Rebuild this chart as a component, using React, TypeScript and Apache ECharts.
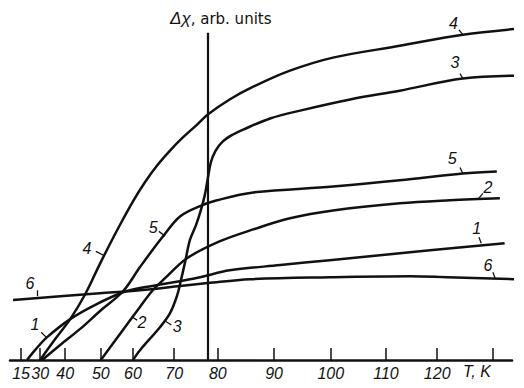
import React, { useEffect, useRef } from "react";
import * as echarts from "echarts";

// Temperature axis (non-linear, hand-drawn scale): tick temperatures and their positions along the axis (0..100)
const TICK_T = [15, 30, 40, 50, 60, 70, 80, 90, 100, 110, 120, 130];
const TICK_LABELS = ["15", "30", "40", "50", "60", "70", "80", "90", "100", "110", "120", ""];
const TICK_POS = [2.2, 6.0, 11.0, 18.1, 24.5, 32.7, 41.4, 52.6, 63.9, 74.9, 85.1, 96.2];

// Curves: temperature T (K) and Δχ (arb. units)
const curve1T = [19.7, 26.8, 32.8, 41.4, 48.3, 56.9, 61.7, 67.3, 75.9, 82.1, 91.1, 99.8, 118.6, 132.1];
const curve1Y = [0, 3.4, 7.0, 12.5, 16.8, 20.7, 22.0, 23.2, 25.3, 27.4, 29.0, 30.5, 33.5, 35.7];

const curve2T = [50, 55.9, 61.7, 64.6, 67.8, 72.95, 80.4, 86.3, 92.8, 100.4, 112.7, 122.3, 131.25];
const curve2Y = [0, 7.9, 16.2, 21.0, 25.0, 31.1, 36.3, 39.9, 43.3, 45.7, 47.9, 48.8, 49.4];

const curve3T = [60, 61.7, 66.6, 69.0, 70.7, 71.4, 72.5, 73.6, 75.0, 76.1, 77.0, 77.7, 78.4, 79.5, 80.9, 82.7, 84.5, 89.3, 94.6, 103.5, 112.7, 124.6, 134.8];
const curve3Y = [0, 3.0, 10.1, 14.3, 19.8, 23.5, 29.9, 36.6, 41.2, 45.7, 50.3, 55.5, 60.4, 64.0, 66.8, 68.9, 70.4, 73.8, 76.2, 79.6, 82.3, 86.0, 86.9];

const curve4T = [30, 36.0, 41.4, 45.6, 49.7, 53.75, 56.9, 60, 62.9, 65.9, 69.0, 72.0, 75.0, 77.7, 82.1, 86.3, 92.8, 100.4, 112.7, 124.6, 134.3];
const curve4Y = [0, 6.4, 12.5, 20.1, 29.3, 37.2, 43.0, 48.5, 54.3, 59.5, 64.0, 68.0, 71.6, 75.0, 79.6, 83.5, 88.4, 92.4, 96.0, 99.4, 101.2];

const curve5T = [30.8, 38.0, 44.2, 49.7, 56.9, 61.7, 67.3, 71.4, 75.9, 79.8, 86.3, 100.4, 112.7, 124.6, 130.7];
const curve5Y = [0, 4.6, 9.5, 14.9, 21.0, 28.4, 37.8, 43.9, 47.0, 48.8, 51.2, 53.0, 54.9, 57.0, 57.6];

const curve6T = [8.7, 38.0, 49.7, 61.7, 71.4, 77.7, 85.7, 99.8, 114.7, 121.8, 133.9];
const curve6Y = [18.3, 19.5, 20.4, 21.3, 22.6, 23.5, 24.7, 25.3, 25.6, 25.3, 24.7];

// Reference line (liquid-nitrogen temperature) and curve labels
const T_REF = 77.7;
const REF_TOP = 100;
const labelNames = ["1", "2", "3", "4", "5", "6"];
// label anchors [T, Δχ] and leader ticks [[T, Δχ], [T, Δχ]]
const labelRight = [[127.1, 40.2], [129.1, 52.7], [123.2, 90.9], [122.9, 102.7], [122.7, 61.6], [129.1, 29.0]];
const leaderRight = [
  [[127.5, 37.5], [127.9, 35.7]],
  [[128.2, 50.9], [127.3, 49.1]],
  [[124.1, 87.5], [124.6, 86.0]],
  [[123.9, 100.9], [124.6, 99.4]],
  [[124.1, 58.8], [124.6, 57.0]],
  [[130.0, 26.8], [130.4, 25.0]],
];
const labelLeft = [[26.0, 10.7], [62.2, 11.6], [70.7, 10.1], [46.1, 34.1], [64.9, 40.5], [22.1, 23.5]];
const leaderLeft = [
  [[30.4, 8.5], [32.4, 7.0]],
  [[61.0, 12.2], [59.6, 13.2]],
  [[69.3, 10.7], [67.8, 11.9]],
  [[48.6, 33.2], [50.8, 32.0]],
  [[66.3, 39.3], [67.8, 37.8]],
  [[27.6, 21.3], [27.6, 19.5]],
];

function toU(t: number): number {
  const n = TICK_T.length;
  let i = 0;
  while (i < n - 2 && t > TICK_T[i + 1]) i++;
  const f = (t - TICK_T[i]) / (TICK_T[i + 1] - TICK_T[i]);
  return TICK_POS[i] + f * (TICK_POS[i + 1] - TICK_POS[i]);
}

const FONT = "'Liberation Sans', Arial, sans-serif";
const INK = "#111";

export default function App() {
  const ref = useRef<HTMLDivElement>(null);
  useEffect(() => {
    if (!ref.current) return;
    const chart = echarts.init(ref.current, null, { renderer: "svg" });
    const curves = [
      [curve1T, curve1Y],
      [curve2T, curve2Y],
      [curve3T, curve3Y],
      [curve4T, curve4Y],
      [curve5T, curve5Y],
      [curve6T, curve6Y],
    ];
    const series: any[] = curves.map(([ts, ys], k) => ({
      type: "line",
      name: labelNames[k],
      data: ts.map((t, j) => [toU(t), ys[j]]),
      showSymbol: false,
      symbol: "none",
      smooth: 0.35,
      clip: false,
      lineStyle: { color: INK, width: 2.5 },
      silent: true,
      markPoint: {
        symbol: "circle",
        symbolSize: 0,
        silent: true,
        label: {
          show: true,
          position: "inside",
          color: INK,
          fontFamily: FONT,
          fontStyle: "italic",
          fontSize: 16,
        },
        data: [labelRight[k], labelLeft[k]].map((p) => ({
          coord: [toU(p[0]), p[1]],
          value: labelNames[k],
          label: { formatter: labelNames[k] },
        })),
      },
      markLine: {
        symbol: ["none", "none"],
        silent: true,
        label: { show: false },
        lineStyle: { color: INK, width: 1.3, type: "solid" },
        data: [leaderRight[k], leaderLeft[k]].map((seg) => [
          { coord: [toU(seg[0][0]), seg[0][1]] },
          { coord: [toU(seg[1][0]), seg[1][1]] },
        ]),
      },
    }));
    // vertical reference line
    series.push({
      type: "line",
      data: [],
      silent: true,
      markLine: {
        symbol: ["none", "none"],
        silent: true,
        label: { show: false },
        lineStyle: { color: INK, width: 2.2, type: "solid" },
        data: [[{ coord: [toU(T_REF), 0] }, { coord: [toU(T_REF), REF_TOP] }]],
      },
    });

    chart.setOption({
      animation: false,
      backgroundColor: "#fff",
      grid: { left: 10, right: 12, top: -1, bottom: 28, containLabel: false },
      xAxis: {
        type: "value",
        min: 0,
        max: 100,
        axisLine: { show: true, lineStyle: { color: INK, width: 2.5 } },
        axisTick: {
          show: true,
          inside: true,
          length: 12,
          customValues: TICK_POS,
          lineStyle: { color: INK, width: 1.5 },
        },
        axisLabel: {
          show: true,
          customValues: TICK_POS,
          margin: 5,
          color: INK,
          fontFamily: FONT,
          fontStyle: "italic",
          fontSize: 16,
          formatter: (v: number) => {
            const i = TICK_POS.findIndex((p) => Math.abs(p - v) < 1e-6);
            return i >= 0 ? TICK_LABELS[i] : "";
          },
        },
        splitLine: { show: false },
      },
      yAxis: {
        type: "value",
        min: 0,
        max: 110,
        show: false,
        splitLine: { show: false },
      },
      graphic: [
        {
          type: "text",
          left: 170,
          top: 10,
          silent: true,
          style: {
            text: "{a|Δχ}{b|, arb. units}",
            rich: {
              a: { fontFamily: FONT, fontStyle: "italic", fontSize: 17, fill: INK },
              b: { fontFamily: "'DejaVu Sans', sans-serif", fontSize: 15, fill: INK },
            },
          },
        },
        {
          type: "text",
          left: 463,
          top: 363,
          silent: true,
          style: {
            text: "T, K",
            fontFamily: FONT,
            fontStyle: "italic",
            fontSize: 16,
            fill: INK,
          },
        },
      ],
      series,
    });
    return () => chart.dispose();
  }, []);
  return (
    <div
      ref={ref}
      style={{ position: "fixed", left: 0, top: 0, width: 524, height: 388, background: "#fff" }}
    />
  );
}
